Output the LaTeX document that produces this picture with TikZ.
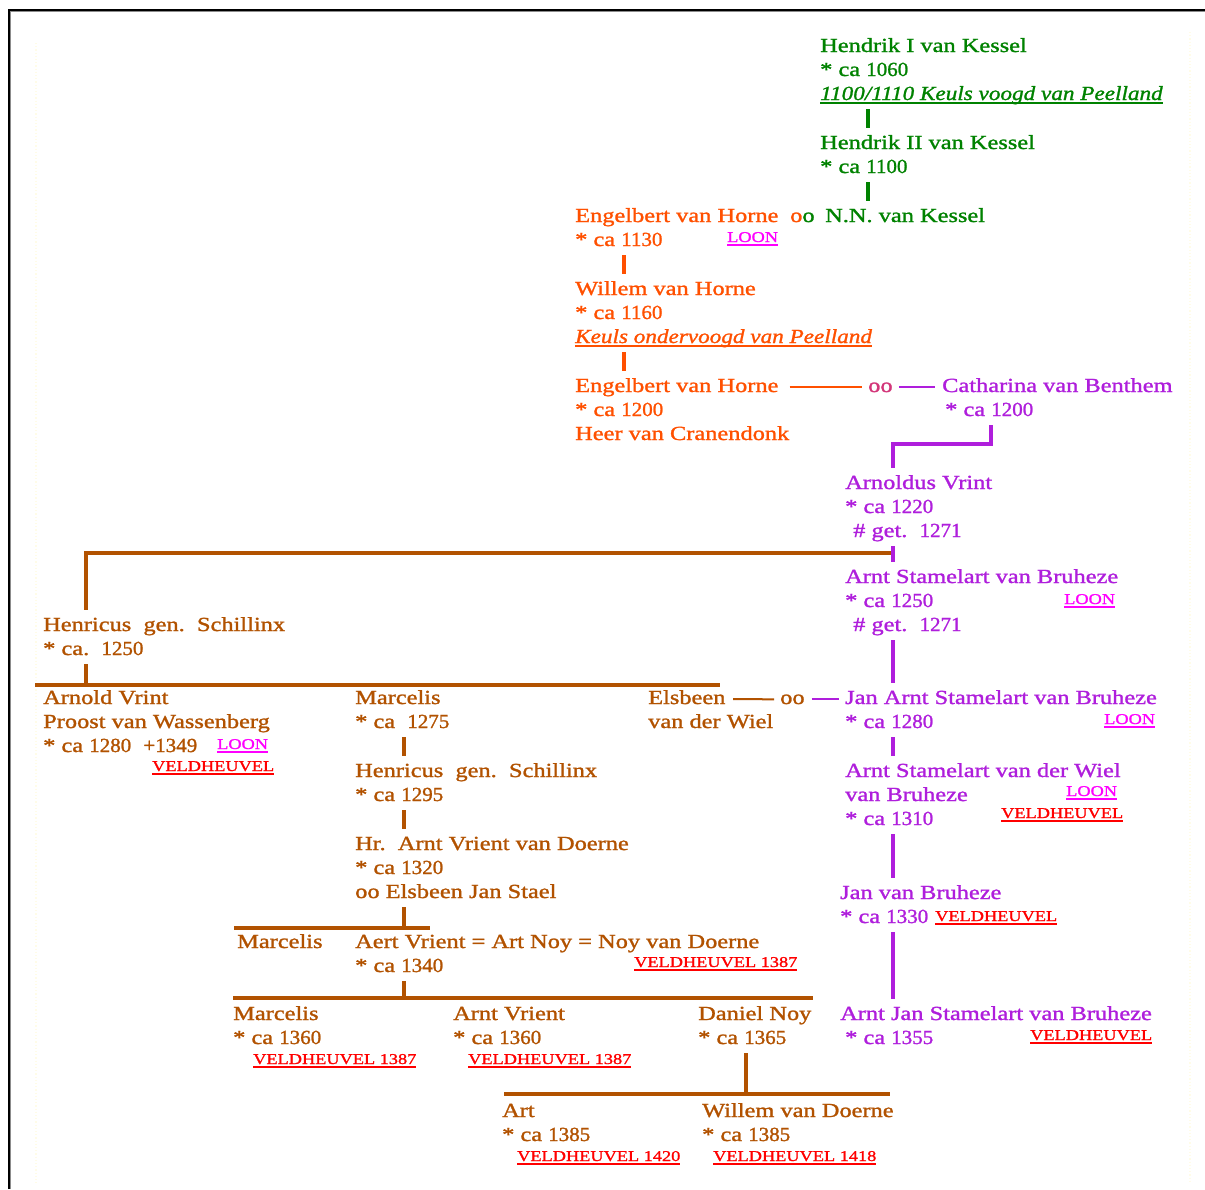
\documentclass[tikz,border=0pt]{standalone}
\usepackage{fontspec}
\setmainfont{Liberation Serif}[FakeStretch=1.22, FakeBold=1.3]
\usetikzlibrary{calc}
\definecolor{kessel}{RGB}{0,130,0}
\definecolor{horne}{RGB}{255,80,0}
\definecolor{paars}{RGB}{175,30,220}
\definecolor{bruin}{RGB}{178,82,0}
\definecolor{loonc}{RGB}{255,0,255}
\definecolor{veldc}{RGB}{255,0,0}
\definecolor{paleline}{RGB}{255,252,232}
\newcommand\ulin[1]{\setbox0\hbox{#1}\rlap{\rule[-3.5pt]{\wd0}{1.3pt}}\box0}
\newcommand\pers[1]{\begin{tabular}[t]{@{}l@{}}#1\end{tabular}}
\newcommand\itl[1]{\ulin{\scalebox{0.95}[1]{\itshape #1}}}
\newcommand\yr[1]{\scalebox{0.86}[1]{#1}}
\tikzset{
  persn/.style={anchor=base west, inner sep=0pt, font=\fontsize{20}{24}\selectfont},
  lnk/.style={anchor=base west, inner sep=0pt, font=\fontsize{15}{18}\selectfont},
  loon/.style={lnk, text=loonc},
  veld/.style={lnk, text=veldc},
  oonode/.style={anchor=base west, inner sep=0pt, font=\fontsize{20}{24}\selectfont},
  kl/.style={line width=4pt, shorten <=2pt, shorten >=4pt},
  bar/.style={line width=4pt},
  thinl/.style={line width=2pt},
}
\begin{document}
\begin{tikzpicture}[x=1pt,y=-1pt]
\useasboundingbox (0,0) rectangle (1205,1189);
\fill[white] (0,0) rectangle (1205,1189);
% frame
\draw[black!45, line width=1pt] (10.8,1189) -- (10.8,11.8) -- (1205,11.8);
\draw[black, line width=1.4pt] (9,1189) -- (9,10) -- (1205,10);
\draw[paleline, line width=1.2pt, dotted] (36,43) -- (36,1183);
\draw[paleline, line width=1.2pt, dotted] (1190,32) -- (1190,1183);

% ---------- Kessel ----------
\node[persn, text=kessel] (hk1) at (820,52) {\pers{Hendrik I van Kessel\\{}* ca \yr{1060}\\{}\itl{1100/1110 Keuls voogd van Peelland}}};
\node[persn, text=kessel] (hk2) at (820,149) {\pers{Hendrik II van Kessel\\{}* ca \yr{1100}}};
\node[persn, text=kessel] (nn) at (825,222) {\pers{N.N. van Kessel}};
\node[oonode] (oo1) at (790,222) {{\color{horne}o}{\color{kessel}o}};

% ---------- Horne ----------
\node[persn, text=horne] (eh1) at (575,222) {\pers{Engelbert van Horne\\{}* ca \yr{1130}}};
\node[loon] (l1) at (727,242) {\ulin{LOON}};
\node[persn, text=horne] (wh) at (575,295) {\pers{Willem van Horne\\{}* ca \yr{1160}\\{}\itl{Keuls ondervoogd van Peelland}}};
\node[persn, text=horne] (eh2) at (575,392) {\pers{Engelbert van Horne\\{}* ca \yr{1200}\\{}Heer van Cranendonk}};
\node[oonode] (oo2) at (868,392) {{\color{horne!45!paars}oo}};
\node[persn, text=paars] (cb) at (942,392) {\pers{Catharina van Benthem\\{}\hspace*{3pt}* ca \yr{1200}}};

% ---------- Bruheze line ----------
\node[persn, text=paars] (av) at (845,489) {\pers{Arnoldus Vrint\\{}* ca \yr{1220}\\{}\hspace*{8pt}\# get.\ \ \yr{1271}}};
\node[persn, text=paars] (as) at (845,583) {\pers{Arnt Stamelart van Bruheze\\{}* ca \yr{1250}\\{}\hspace*{8pt}\# get.\ \ \yr{1271}}};
\node[loon] (l2) at (1064,604) {\ulin{LOON}};
\node[persn, text=paars] (jas) at (845,704) {\pers{Jan Arnt Stamelart van Bruheze\\{}* ca \yr{1280}}};
\node[loon] (l3) at (1104,724) {\ulin{LOON}};
\node[persn, text=paars] (asw) at (845,777) {\pers{Arnt Stamelart van der Wiel\\{}van Bruheze\\{}* ca \yr{1310}}};
\node[loon] (l4) at (1066,796) {\ulin{LOON}};
\node[veld] (v1) at (1001,818) {\ulin{VELDHEUVEL}};
\node[persn, text=paars] (jvb) at (840,899) {\pers{Jan van Bruheze\\{}* ca \yr{1330}}};
\node[veld] (v2) at (935,921) {\ulin{VELDHEUVEL}};
\node[persn, text=paars] (ajs) at (840,1020) {\pers{Arnt Jan Stamelart van Bruheze\\{}\hspace*{5pt}* ca \yr{1355}}};
\node[veld] (v3) at (1030,1040) {\ulin{VELDHEUVEL}};

% ---------- Schillinx / Doerne ----------
\node[persn, text=bruin] (hs1) at (43,631) {\pers{Henricus\ \ gen.\ \ Schillinx\\{}* ca.\ \ \yr{1250}}};
\node[persn, text=bruin] (avr1) at (43,704) {\pers{Arnold Vrint\\{}Proost van Wassenberg\\{}* ca \yr{1280}\ \ \yr{+1349}}};
\node[loon] (l5) at (217,749) {\ulin{LOON}};
\node[veld] (v4) at (152,771) {\ulin{VELDHEUVEL}};
\node[persn, text=bruin] (m1) at (355,704) {\pers{Marcelis\\{}* ca\ \ \yr{1275}}};
\node[persn, text=bruin] (hs2) at (355,777) {\pers{Henricus\ \ gen.\ \ Schillinx\\{}* ca \yr{1295}}};
\node[persn, text=bruin] (av3) at (355,850) {\pers{Hr.\ \ Arnt Vrient van Doerne\\{}* ca \yr{1320}\\{}oo Elsbeen Jan Stael}};
\node[persn, text=bruin] (m2) at (237,948) {\pers{Marcelis}};
\node[persn, text=bruin] (aert) at (355,948) {\pers{Aert Vrient = Art Noy = Noy van Doerne\\{}* ca \yr{1340}}};
\node[veld] (v5) at (634,967) {\ulin{VELDHEUVEL 1387}};
\node[persn, text=bruin] (m3) at (233,1020) {\pers{Marcelis\\{}* ca \yr{1360}}};
\node[veld] (v6) at (253,1064) {\ulin{VELDHEUVEL 1387}};
\node[persn, text=bruin] (avr2) at (453,1020) {\pers{Arnt Vrient\\{}* ca \yr{1360}}};
\node[veld] (v7) at (468,1064) {\ulin{VELDHEUVEL 1387}};
\node[persn, text=bruin] (dn) at (698,1020) {\pers{Daniel Noy\\{}* ca \yr{1365}}};
\node[persn, text=bruin] (art) at (502,1117) {\pers{Art\\{}* ca \yr{1385}}};
\node[veld] (v8) at (517,1161) {\ulin{VELDHEUVEL 1420}};
\node[persn, text=bruin] (wd) at (702,1117) {\pers{Willem van Doerne\\{}* ca \yr{1385}}};
\node[veld] (v9) at (713,1161) {\ulin{VELDHEUVEL 1418}};
\node[persn, text=bruin] (els) at (648,704) {\pers{Elsbeen\\{}van der Wiel}};
\node[oonode, text=bruin] (oo3) at (780,704) {oo};

% ---------- connectors ----------
% Kessel
\draw[kl, kessel] ($(hk1.south west)+(48,0)$) -- ($(hk2.north west)+(48,0)$);
\draw[kl, kessel] ($(hk2.south west)+(48,0)$) -- ($(nn.north west)+(43,0)$);
% Horne
\draw[kl, horne] ($(eh1.south west)+(49,0)$) -- ($(wh.north west)+(49,0)$);
\draw[kl, horne] ($(wh.south west)+(49,0)$) -- ($(eh2.north west)+(49,0)$);
\draw[thinl, horne, shorten >=6pt] (eh2.east |- oo2.west) -- (oo2.west);
\draw[thinl, paars, shorten <=6pt, shorten >=7pt] (oo2.east) -- (oo2.east -| cb.west);
% Catharina -> Arnoldus
\coordinate (cbk) at (893,444);
\draw[kl, paars, line join=miter] ($(cb.south west)+(49,0)$) |- (cbk) -- ($(av.north west)+(48,0)$);
% brown branch from Arnoldus to Henricus
\coordinate (j1) at (891,553);
\draw[kl, bruin, shorten <=0pt, line join=miter] (j1) -| ($(hs1.north west)+(43,0)$);
\draw[kl, paars] ($(av.south west)+(48,0)$) -- ($(as.north west)+(48,0)$);
\draw[kl, paars] ($(as.south west)+(48,0)$) -- ($(jas.north west)+(48,0)$);
\draw[kl, paars] ($(jas.south west)+(48,0)$) -- ($(asw.north west)+(48,0)$);
\draw[kl, paars] ($(asw.south west)+(48,0)$) -- ($(jvb.north west)+(53,0)$);
\draw[kl, paars] ($(jvb.south west)+(53,0)$) -- ($(ajs.north west)+(53,0)$);
% Elsbeen oo Jan Arnt
\coordinate (elsr) at (733,699);
\draw[thinl, bruin, shorten >=6pt] (elsr) -- (oo3.west);
\draw[thinl, paars, shorten <=7pt, shorten >=6pt] (oo3.east) -- (oo3.east -| jas.west);
% Henricus children
\coordinate (b2l) at (35,685); \coordinate (b2r) at (720,685);
\draw[bar, bruin] (b2l) -- (b2r);
\draw[bar, bruin, shorten <=2pt] ($(hs1.south west)+(43,0)$) |- (b2l);
\draw[kl, bruin] ($(m1.south west)+(49,0)$) -- ($(hs2.north west)+(49,0)$);
\draw[kl, bruin] ($(hs2.south west)+(49,0)$) -- ($(av3.north west)+(49,0)$);
\coordinate (b3l) at (234,928); \coordinate (b3r) at (430,928);
\draw[bar, bruin] (b3l) -- (b3r);
\draw[bar, bruin, shorten <=2pt] ($(av3.south west)+(49,0)$) |- (b3r);
\coordinate (b4l) at (233,998); \coordinate (b4r) at (813,998);
\draw[bar, bruin] (b4l) -- (b4r);
\draw[bar, bruin, shorten <=2pt] ($(aert.south west)+(49,0)$) |- (b4r);
\coordinate (b5l) at (504,1094); \coordinate (b5r) at (890,1094);
\draw[bar, bruin] (b5l) -- (b5r);
\draw[bar, bruin, shorten <=2pt] ($(dn.south west)+(48,0)$) |- (b5r);
\end{tikzpicture}
\end{document}
